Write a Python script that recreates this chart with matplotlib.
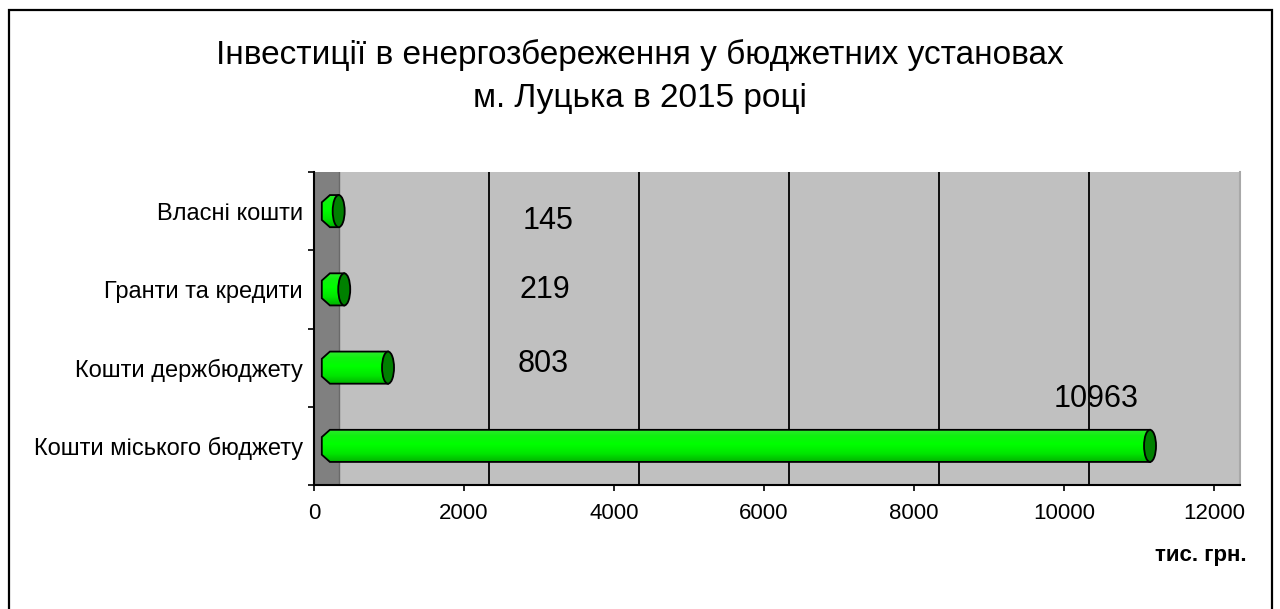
import numpy as np
import matplotlib
matplotlib.use("Agg")
import matplotlib.pyplot as plt
from matplotlib.patches import Rectangle, Ellipse, PathPatch
from matplotlib.path import Path
from matplotlib.colors import LinearSegmentedColormap

# ---------------- data ----------------
categories = ["Власні кошти", "Гранти та кредити", "Кошти держбюджету", "Кошти міського бюджету"]
values = [145, 219, 803, 10963]
title_lines = ["Інвестиції в енергозбереження у бюджетних установах", "м. Луцька в 2015 році"]
x_ticks = [0, 2000, 4000, 6000, 8000, 10000, 12000]
unit_label = "тис. грн."

# ---------------- style ----------------
plt.rcParams['font.family'] = ['Liberation Sans', 'DejaVu Sans']
W, H = 1280, 609
fig = plt.figure(figsize=(W / 100, H / 100), dpi=100)
fig.patch.set_facecolor("white")

ax_l, ax_r, ax_t, ax_b = 314, 1240, 172, 485
ax = fig.add_axes([ax_l / W, 1 - ax_b / H, (ax_r - ax_l) / W, (ax_b - ax_t) / H])

px_per_unit = 900 / 12000.0
xmax = (ax_r - ax_l) / px_per_unit
depth = 25 / px_per_unit          # side wall depth (data units)
bar_off = 13.8 / px_per_unit      # bars sit mid-depth
rx = 6 / px_per_unit              # horizontal radius of the cylinder ends
hh = 16 / 78.0                    # half height of cylinder (y units)

n = len(categories)
ypos = np.arange(n)[::-1]         # first category at top
ax.set_xlim(0, xmax)
ax.set_ylim(-0.5, n - 0.5)

# walls
ax.add_patch(Rectangle((0, -0.5), depth, n, facecolor="#808080", edgecolor="none", zorder=0))
ax.add_patch(Rectangle((depth, -0.5), xmax - depth, n, facecolor="#C0C0C0", edgecolor="none", zorder=0))
ax.plot([depth, depth], [-0.5, n - 0.5], color="#6A6A6A", lw=1.0, zorder=1)
ax.plot([xmax, xmax], [-0.5, n - 0.5], color="#A8A8A8", lw=1.5, zorder=1, clip_on=False)

# gridlines (shifted to the back wall)
for t in x_ticks[1:-1]:
    ax.plot([t + depth, t + depth], [-0.5, n - 0.5], color="black", lw=1.3, zorder=1)

# cylinder bars
cmap = LinearSegmentedColormap.from_list(
    "grn", [(0.0, "#00B400"), (0.25, "#00E600"), (0.55, "#00FF00"), (0.8, "#10F010"), (1.0, "#30E830")])
grad = np.linspace(0, 1, 64).reshape(-1, 1)

def cylinder(v, yc):
    x0 = bar_off
    x1 = bar_off + v
    k = 0.35
    verts = [
        (x1, yc + hh), (x0 + rx * k, yc + hh),
        (x0 - rx, yc + hh * 0.55), (x0 - rx, yc - hh * 0.55),
        (x0 + rx * k, yc - hh), (x1, yc - hh), (x1, yc + hh)
    ]
    codes = [Path.MOVETO] + [Path.LINETO] * 5 + [Path.CLOSEPOLY]
    body = PathPatch(Path(verts, codes), facecolor="none", edgecolor="black", lw=1.3, zorder=4)
    ax.add_patch(body)
    im = ax.imshow(grad, cmap=cmap, aspect="auto", origin="lower",
                   extent=(x0 - rx, x1, yc - hh, yc + hh), zorder=3, interpolation="bilinear")
    im.set_clip_path(body)
    cap = Ellipse((x1, yc), 2 * rx, 2 * hh, facecolor="#008000", edgecolor="black", lw=1.3, zorder=5)
    ax.add_patch(cap)

for v, yc in zip(values, ypos):
    cylinder(v, yc)

# data labels (Excel-like placement)
label_pos_x = [3120, 3080, 3050, 10430]
label_dy = [-0.13, -0.01, 0.04, 0.6]
for v, yc, lx, dy in zip(values, ypos, label_pos_x, label_dy):
    ax.text(lx, yc + dy, str(v), ha="center", va="center", fontsize=22, color="black", zorder=6)

# axes
ax.set_xticks(x_ticks)
ax.set_xticklabels([str(t) for t in x_ticks])
ax.tick_params(axis="x", direction="out", length=4, width=1.2, labelsize=16, pad=9)
ax.set_yticks(ypos)
ax.set_yticklabels(categories)
ax.tick_params(axis="y", which="major", length=0, labelsize=17, pad=8)
ax.set_yticks(np.arange(-0.5, n, 1.0), minor=True)
ax.tick_params(axis="y", which="minor", direction="out", length=4, width=1.2)
for s in ["top", "right"]:
    ax.spines[s].set_visible(False)
ax.spines["left"].set_linewidth(1.5)
ax.spines["bottom"].set_linewidth(1.5)

# title
fig.text(640 / W, 1 - 55 / H, title_lines[0], ha="center", va="center", fontsize=24)
fig.text(640 / W, 1 - 99 / H, title_lines[1], ha="center", va="center", fontsize=24)

# unit label
fig.text(1247 / W, 1 - 556 / H, unit_label, ha="right", va="center", fontsize=16, fontweight="bold")

# outer border
fig.patches.append(Rectangle((8.5 / W, -0.05), (1272 - 8.5) / W, 1.05 - 10 / H, transform=fig.transFigure,
                             fill=False, edgecolor="black", lw=1.6, figure=fig))

fig.savefig("out.png", dpi=100)
